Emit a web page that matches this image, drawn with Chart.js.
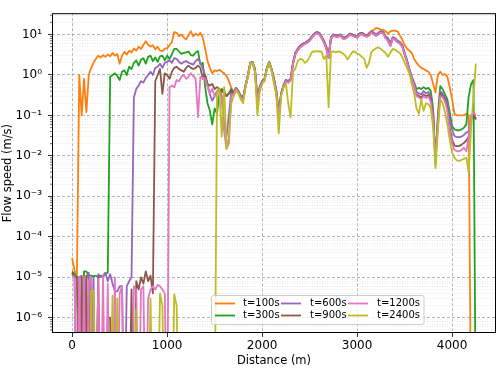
<!DOCTYPE html>
<html>
<head>
<meta charset="utf-8">
<script src="https://cdn.jsdelivr.net/npm/chart.js@4.4.1/dist/chart.umd.min.js"></script>
<style>
  html, body { margin: 0; padding: 0; background: #fff; }
  canvas { display: block; }
</style>
</head>
<body>
<canvas id="flow_chart" width="498" height="368"></canvas>
<script>
// distance along the reach (m), one sample every 25 m
const distance = [0,25,50,75,100,125,150,175,200,225,250,275,300,325,350,375,400,425,450,475,
  500,525,550,575,600,625,650,675,700,725,750,775,800,825,850,875,900,925,950,975,
  1000,1025,1050,1075,1100,1125,1150,1175,1200,1225,1250,1275,1300,1325,1350,1375,1400,1425,1450,1475,
  1500,1525,1550,1575,1600,1625,1650,1675,1700,1725,1750,1775,1800,1825,1850,1875,1900,1925,1950,1975,
  2000,2025,2050,2075,2100,2125,2150,2175,2200,2225,2250,2275,2300,2325,2350,2375,2400,2425,2450,2475,
  2500,2525,2550,2575,2600,2625,2650,2675,2700,2725,2750,2775,2800,2825,2850,2875,2900,2925,2950,2975,
  3000,3025,3050,3075,3100,3125,3150,3175,3200,3225,3250,3275,3300,3325,3350,3375,3400,3425,3450,3475,
  3500,3525,3550,3575,3600,3625,3650,3675,3700,3725,3750,3775,3800,3825,3850,3875,3900,3925,3950,3975,
  4000,4025,4050,4075,4100,4125,4150,4175,4200,4225,4250];

const series_labels = ['t=100s', 't=300s', 't=600s', 't=900s', 't=1200s', 't=2400s'];
const series_colors = ['#ff7f0e', '#1fa31f', '#9467bd', '#8c564b', '#e377c2', '#bcbd22'];

const x_tick_values = [0, 1000, 2000, 3000, 4000];
const y_tick_values = [1e-6, 1e-5, 1e-4, 1e-3, 1e-2, 1e-1, 1, 10];
const y_tick_labels = ['10⁻⁶', '10⁻⁵', '10⁻⁴', '10⁻³', '10⁻²', '10⁻¹', '10⁰', '10¹'];

// flow speed (m/s). 0 = dry cell, goes below the frame
// first part: 0 - 1675 m (each curve is different there)
const start_100 = [3e-5,1.5e-5,1e-5,1.0,0.1,0.8,0.12,1.0,1.5,2.0,
  2.5,3.0,2.7,3.1,2.8,3.2,2.9,3.5,3.0,3.3,
  1.9,3.0,3.7,3.2,4.0,3.6,4.5,4.0,5.0,4.4,
  5.5,6.8,5.6,5.0,5.4,4.3,5.0,4.0,3.9,4.5,
  4.6,5.4,6.5,11.5,11,9,10,8.5,7.6,9.5,
  12,9,10.5,9.5,11,8.5,4.5,2.2,1.5,1.1,
  1.3,1.25,1.35,1.2,1.1,0.95,0.7,0.48];
const start_300 = [1.4e-5,1.2e-5,1e-5,1e-5,0,1.4e-5,1.4e-5,1.1e-5,1.1e-5,1.05e-5,
  1.1e-5,1e-5,1.1e-5,1.05e-5,1.2e-5,1.3e-5,0.9,1.0,1.1,0.95,
  0.75,1.2,1.3,1.0,1.6,1.4,2.0,2.3,1.7,2.4,
  2.6,1.9,2.8,3.0,2.2,2.7,2.1,2.9,3.0,2.3,
  3.0,2.5,3.2,4.4,4.4,3.8,3.3,3.5,3.6,3.8,
  3.1,3.0,3.6,3.9,1.8,2.0,0.5,0.2,0.13,0.06,
  0.15,0.11,0.33,0.45,0.4,0.3,0.35,0.45];
const start_600 = [1.2e-5,1e-5,0,1e-5,1.1e-5,0,1e-5,1.3e-5,0,1e-5,
  0,1.2e-5,1e-5,1.1e-5,1.3e-5,8e-6,1.2e-5,7e-6,4.5e-6,4.5e-6,
  6e-6,6e-6,0,6e-6,8e-6,1e-5,0.28,0.45,0.55,0.7,
  0.65,0.85,1.0,1.2,1.0,1.5,1.6,1.9,1.5,2.0,
  2.1,2.3,2.0,2.6,2.5,2.1,1.9,2.1,2.2,2.0,
  1.9,1.8,2.2,2.5,2.0,1.5,1.0,0.6,0.33,0.23,
  0.3,0.4,0.45,0.3,0.06,0.03,0.1,0.4];
const start_900 = [1.3e-5,1e-5,1e-5,0,1e-5,0,1.1e-5,0,9e-6,0,
  0,1e-5,0,0,0,1e-6,1e-6,0,0,0,
  0,0,0,0,0,5e-6,0,8e-6,5e-6,1e-5,
  7e-6,1.4e-5,8e-6,1.1e-5,4e-6,0.7,1.0,1.4,0.34,1.1,
  1.0,0.8,1.2,1.5,1.6,1.4,1.3,1.2,1.5,1.7,
  1.5,1.4,1.5,1.7,1.5,0.8,1.0,0.6,0.55,0.6,
  0.45,0.5,0.45,0.4,0.35,0.3,0.35,0.42];
const start_1200 = [1.1e-5,1e-5,0,1e-5,0,1e-5,0,8e-6,1e-5,0,
  0,9e-6,0,1.1e-5,0,7e-6,0,0,1e-5,0,
  4e-6,6e-6,0,0,0,0,6e-6,5e-6,0,5e-6,
  6e-6,0,3e-6,5e-6,6e-6,5e-6,6.5e-6,6e-6,5e-6,4e-6,
  0,0.5,0.55,0.5,0.75,0.7,0.9,1.0,0.8,0.9,
  1.1,0.95,0.8,0.09,0.9,0.85,0.8,0.5,0.35,0.45,
  0.3,0.35,0.4,0.25,0.04,0.015,0.02,0.3];
const start_2400 = [0,0,0,0,0,0,0,0,4.5e-6,4.7e-6,
  0,0,0,0,0,0,0,3.5e-6,0,3e-6,
  0,0,0,0,0,0,0,1.6e-6,0,0,
  0,0,0,3e-6,0,0,0,4e-6,2e-6,0,
  0,0,0,3.8e-6,2e-6,0,0,0,0,0,
  0,0,0,0,0,0,0,0,0,0,
  0,0.4,0.45,0.03,0.5,0.015,0.03,0.2];

// middle part: 1700 - 3600 m, the curves lie on top of each other here
const mid_upper = [0.37,0.48,0.4,0.3,0.28,0.55,1.0,2.0,2.1,1.4,
  0.25,0.5,0.7,0.8,1.5,2.1,1.4,0.8,0.4,0.11,
  0.35,0.55,0.75,0.7,0.8,2.0,3.5,4.4,5.2,5.8,
  6.2,6.8,7.5,9,10.5,11.5,11,9,7,5,
  3,8.5,10,9.5,9.5,10,8.5,8.5,9.5,10.5,
  10,9.5,9,10.5,11,10,9.5,10,12,11,
  10,11,12,11.5,9,8,6,8.5,8,7,
  6.5,5.5,3.5,2.3,1.4,0.9,0.65];
const mid_lower = [0.33,0.45,0.37,0.27,0.25,0.5,0.9,1.85,1.95,1.2,
  0.2,0.45,0.65,0.75,1.4,1.95,1.25,0.7,0.35,0.09,
  0.32,0.5,0.7,0.65,0.75,1.85,3.2,4.1,4.8,5.4,
  5.8,6.3,7,8.4,9.8,10.7,10.2,8.3,6.4,4.5,
  2.6,7.9,9.3,8.8,8.8,9.3,7.9,7.9,8.8,9.8,
  9.3,8.8,8.4,9.8,10.2,9.3,8.8,9.3,11.2,10.2,
  9.3,10.2,11.2,10.7,8.2,7,5.2,7.9,7.4,6.5,
  6,5,3.2,2.1,1.3,0.8,0.55];
const mid_2400 = [0.3,0.4,0.35,0.25,0.2,0.5,0.9,1.9,2.0,1.2,
  0.1,0.4,0.6,0.7,1.4,2.0,1.3,0.6,0.3,0.036,
  0.3,0.5,0.6,0.2,0.09,1.2,1.45,2.2,2.5,2.4,
  2.0,2.2,2.8,3.7,3.8,3.9,3.8,3.8,2.5,3.0,
  0.16,3.7,3.8,3.6,3.8,3.7,3.4,3.0,2.4,3.0,
  3.7,3.8,3.4,3.2,2.8,2.5,1.5,2.0,3.7,4.2,
  4.6,4.8,4.4,3.9,3.5,2.8,3.6,4.4,4.2,3.8,
  3.5,2.8,2.0,1.5,1.1,0.6,0.35];

// end part (t=100s splits off earlier, from 3100 m)
const tail_100 = [9.5,11,12,13,14.5,14,13,13,12,10.5,
  12,12.5,12.5,12,9.5,7.5,5.5,4.5,4,3.5,
  2.5,2,1.7,1.5,1.4,1.3,1.2,1.0,0.6,0.37,
  1.0,1.2,1.0,1.05,0.9,0.5,0.25,0.11,0.1,0.1,
  0.1,0.1,0.11,0.1,0,0,0];
const tail_300 = [0.45,0.48,0.45,0.5,0.45,0.48,0.4,0.15,0.006,0.1,
  0.53,0.45,0.33,0.25,0.12,0.055,0.045,0.043,0.043,0.045,
  0.05,0.06,0.3,0.6,0.75,0];
const tail_600 = [0.38,0.35,0.33,0.4,0.35,0.38,0.3,0.12,0.008,0.08,
  0.4,0.35,0.28,0.2,0.08,0.045,0.031,0.029,0.029,0.03,
  0.033,0.038,0.04,0.1,0.12,0.08];
const tail_900 = [0.33,0.3,0.28,0.33,0.3,0.32,0.26,0.1,0.008,0.07,
  0.35,0.3,0.24,0.15,0.05,0.025,0.018,0.0175,0.0175,0.019,
  0.021,0.024,0.03,0.08,0.1,0.08];
const tail_1200 = [0.3,0.28,0.25,0.3,0.27,0.29,0.22,0.08,0.008,0.06,
  0.3,0.28,0.22,0.13,0.04,0.02,0.014,0.013,0.013,0.014,
  0.016,0.013,0.03,0.1,0.12,0.1];
const tail_2400 = [0.15,0.11,0.25,0.13,0.2,0.19,0.15,0.05,0.005,0.04,
  0.25,0.2,0.12,0.06,0.025,0.012,0.009,0.0077,0.0075,0.008,
  0.0085,0.009,0.004,0.05,0.3,1.9];

const speed_100 = [...start_100, ...mid_upper.slice(0, 56), ...tail_100];
const speed_300 = [...start_300, ...mid_upper, ...tail_300];
const speed_600 = [...start_600, ...mid_upper, ...tail_600];
const speed_900 = [...start_900, ...mid_lower, ...tail_900];
const speed_1200 = [...start_1200, ...mid_lower, ...tail_1200];
const speed_2400 = [...start_2400, ...mid_2400, ...tail_2400];
const speed_lists = [speed_100, speed_300, speed_600, speed_900, speed_1200, speed_2400];

// axis limits (matplotlib autoscale margins)
const x_min = -212, x_max = 4462;
const y_min = 4.2e-7, y_max = 33.6;

Chart.defaults.font.family = "'DejaVu Sans', sans-serif";
Chart.defaults.font.size = 11;
Chart.defaults.color = '#000';

const datasets = speed_lists.map((list, i) => ({
  label: series_labels[i],
  // log axis drops zeros, so push dry cells far below the frame instead
  data: list.map(v => (v > 0 ? v : 1e-9)),
  borderColor: series_colors[i],
  backgroundColor: series_colors[i],
  borderWidth: 1.8,
  borderJoinStyle: 'round',
  pointRadius: 0,
  fill: false,
  tension: 0,
  order: series_labels.length - i   //first series drawn first, like matplotlib
}));

const is_major = c => c.tick && c.tick.major;

// frame, short minor ticks and the legend box inside the plot
const frame_and_legend = {
  id: 'frame_and_legend',
  afterDraw(chart) {
    const { ctx, chartArea: a, scales } = chart;
    ctx.save();

    ctx.strokeStyle = '#000';
    ctx.lineWidth = 0.6;
    scales.y.ticks.forEach(t => {
      if (t.major) return;
      const y = scales.y.getPixelForValue(t.value);
      ctx.beginPath();
      ctx.moveTo(a.left - 2, y);
      ctx.lineTo(a.left, y);
      ctx.stroke();
    });

    ctx.lineWidth = 1;
    ctx.strokeRect(a.left + 0.5, a.top + 0.5, a.right - a.left - 1, a.bottom - a.top - 1);

    // legend: 3 columns, 2 rows, filled column by column
    const box = { x: 211.5, y: 295.5, w: 212.5, h: 29 };
    ctx.beginPath();
    ctx.roundRect(box.x, box.y, box.w, box.h, 2);
    ctx.fillStyle = 'rgba(255,255,255,0.8)';
    ctx.fill();
    ctx.strokeStyle = '#cccccc';
    ctx.lineWidth = 1;
    ctx.stroke();

    const handle_x = [215, 281, 348];
    const text_x = [243, 310, 377];
    const row_y = [303.5, 315.5];
    ctx.font = "10px 'DejaVu Sans', sans-serif";
    ctx.textBaseline = 'middle';
    ctx.textAlign = 'left';
    series_labels.forEach((label, i) => {
      const col = Math.floor(i / 2), row = i % 2;
      ctx.strokeStyle = series_colors[i];
      ctx.lineWidth = 1.8;
      ctx.beginPath();
      ctx.moveTo(handle_x[col], row_y[row]);
      ctx.lineTo(handle_x[col] + 20, row_y[row]);
      ctx.stroke();
      ctx.fillStyle = '#000';
      ctx.fillText(label, text_x[col], row_y[row]);
    });
    ctx.restore();
  }
};

const ctx = document.getElementById('flow_chart').getContext('2d');
new Chart(ctx, {
  type: 'line',
  data: { labels: distance, datasets: datasets },
  options: {
    responsive: false,
    animation: false,
    devicePixelRatio: 1,
    layout: { padding: { top: 3, right: 2, left: 0, bottom: 0 } },
    plugins: { legend: { display: false }, tooltip: { enabled: false } },
    scales: {
      x: {
        type: 'linear',
        min: x_min,
        max: x_max,
        afterBuildTicks: s => { s.ticks = x_tick_values.map(v => ({ value: v, major: true })); },
        afterFit: s => { s.height = 35; },
        ticks: { autoSkip: false, maxRotation: 0, padding: 2, font: { size: 12 }, callback: v => String(v) },
        grid: { color: '#a0a0a0', lineWidth: 0.8, tickLength: 4, tickColor: '#000', tickWidth: 0.8 },
        border: { display: false, dash: [3, 2] },
        title: { display: true, text: 'Distance (m)', font: { size: 11.5 }, padding: { top: 0, bottom: 0 } }
      },
      y: {
        type: 'logarithmic',
        min: y_min,
        max: y_max,
        afterBuildTicks: s => {
          const ticks = [];
          for (let e = -7; e <= 1; e++) {
            for (let m = 1; m <= 9; m++) {
              const v = m === 1 ? Math.pow(10, e) : m * Math.pow(10, e);
              if (v > y_min && v < y_max) {
                const k = y_tick_values.indexOf(v);
                ticks.push({ value: k >= 0 ? y_tick_values[k] : v, major: k >= 0 });
              }
            }
          }
          s.ticks = ticks;
        },
        afterFit: s => { s.width = 52; },
        ticks: {
          autoSkip: false,
          padding: 6,
          font: { size: 12 },
          callback: v => {
            const k = y_tick_values.indexOf(v);
            return k >= 0 ? y_tick_labels[k] : '';
          }
        },
        grid: {
          color: c => (is_major(c) ? '#a0a0a0' : '#dcdcdc'),
          lineWidth: c => (is_major(c) ? 0.8 : 0.6),
          tickLength: 4,
          tickColor: c => (is_major(c) ? '#000' : 'rgba(0,0,0,0)'),
          tickWidth: 0.8
        },
        border: { display: false, dash: c => (is_major(c) ? [3, 2] : [1, 1.5]) },
        title: { display: true, text: 'Flow speed (m/s)', font: { size: 11.5 }, padding: { top: 1, bottom: 0 } }
      }
    }
  },
  plugins: [frame_and_legend]
});
</script>
</body>
</html>
